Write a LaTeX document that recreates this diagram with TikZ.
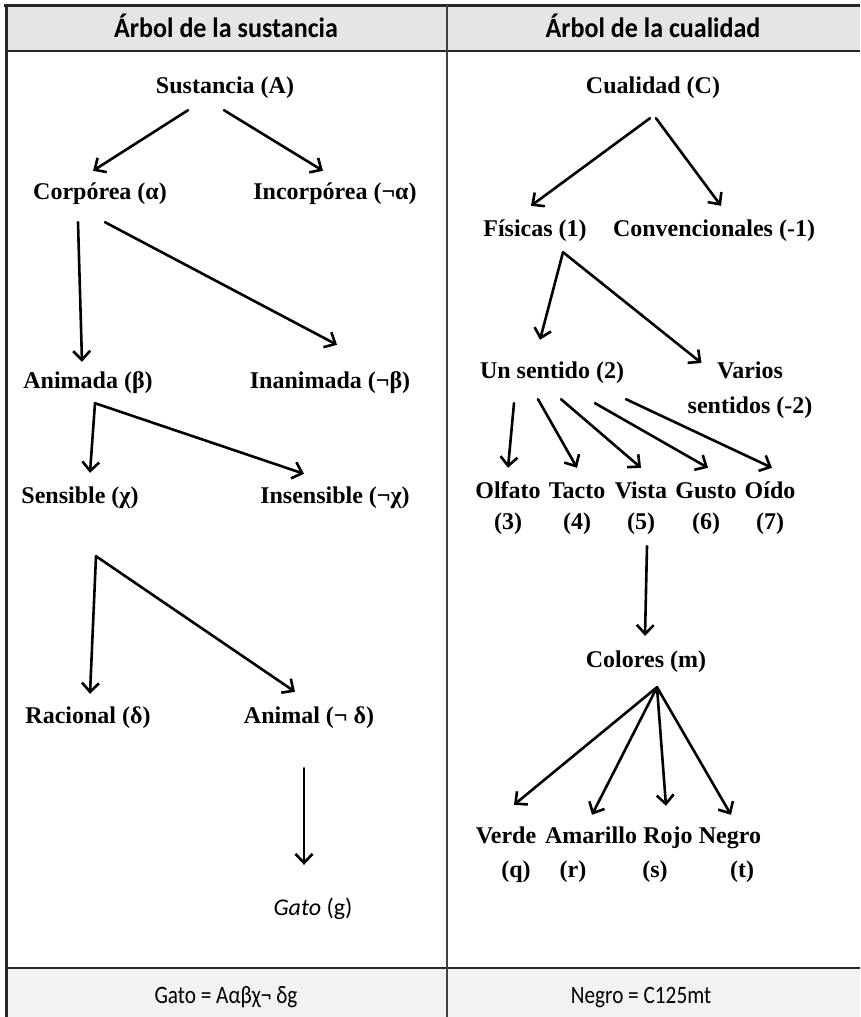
\documentclass[tikz,border=0pt]{standalone}
\usepackage{fontspec}
\setmainfont{Liberation Serif}
\newfontfamily\headfont[FakeStretch=0.93]{Carlito}
\newfontfamily\rowfont{Carlito}
\newfontfamily\resfont[FakeStretch=0.85]{Carlito}
\newcommand\treefont{\bfseries\fontsize{24}{28}\selectfont}
\usetikzlibrary{arrows.meta}
\definecolor{headgray}{RGB}{228,229,230}
\definecolor{rowgray}{RGB}{241,242,243}

\begin{document}
\begin{tikzpicture}[x=1pt, y=-1pt, line cap=round, line join=round,
    lbl/.style={font=\treefont, inner sep=0pt, anchor=base, text height=16pt, text depth=5pt},
    arr/.style={line width=2.6pt, -{Straight Barb[length=9pt,width=17pt]}},
    rule/.style={line width=2.4pt, draw=black!85, line cap=butt}]
	\useasboundingbox (0,0) rectangle (860,1017);

	%Table
	\fill[headgray] (6,5) rectangle (860,51);
	\fill[rowgray] (6,968) rectangle (860,1017);
	\draw[rule] (4,5.5) -- (860,5.5);
	\draw[rule, line width=2pt] (6,51) -- (860,51);
	\draw[rule, line width=2pt] (6,968) -- (860,968);
	\draw[rule] (6.5,4) -- (6.5,1017);
	\draw[rule, line width=1.3pt, draw=black!75] (447,5) -- (447,1017);

	%Headers
	\node[font=\headfont\bfseries\fontsize{28}{32}\selectfont, anchor=base] (hdA) at (226,37) {Árbol de la sustancia};
	\node[font=\headfont\bfseries\fontsize{28}{32}\selectfont, anchor=base] (hdC) at (653,37) {Árbol de la cualidad};

	%Substance tree
	\node[lbl] (sust) at (225,93) {Sustancia (A)};
	\node[lbl] (corp) at (100,199) {Corpórea (α)};
	\node[lbl] (incorp) at (335,199) {Incorpórea (¬α)};
	\node[lbl] (anim) at (88,388) {Animada (β)};
	\node[lbl] (inanim) at (330,388) {Inanimada (¬β)};
	\node[lbl] (sens) at (80,503) {Sensible (χ)};
	\node[lbl] (insens) at (335,503) {Insensible (¬χ)};
	\node[lbl] (rac) at (88,723) {Racional (δ)};
	\node[lbl] (animal) at (309,723) {Animal (¬ δ)};
	\node[lbl, font=\rowfont\fontsize{24}{28}\selectfont] (gato) at (313,915) {\textit{Gato} (g)};

	\draw[arr] ([xshift=-37pt,yshift=-12pt]sust.south) -- ([xshift=-7pt,yshift=12pt]corp.north);
	\draw[arr] ([xshift=-1pt,yshift=-12pt]sust.south) -- ([xshift=-12pt,yshift=12pt]incorp.north);
	\draw[arr] ([xshift=-22pt,yshift=-18pt]corp.south) -- ([xshift=-6pt,yshift=10pt]anim.north);
	\draw[arr] ([xshift=5pt,yshift=-18pt]corp.south) -- ([xshift=7pt,yshift=27pt]inanim.north);
	\draw[arr] ([xshift=7pt,yshift=-10pt]anim.south) -- ([xshift=10pt,yshift=14pt]sens.north);
	\draw[arr] ([xshift=7pt,yshift=-10pt]anim.south) -- ([xshift=-31pt,yshift=13pt]insens.north);
	\draw[arr] ([xshift=16pt,yshift=-48pt]sens.south) -- ([xshift=2pt,yshift=13pt]rac.north);
	\draw[arr] ([xshift=16pt,yshift=-48pt]sens.south) -- ([xshift=-14pt,yshift=15pt]animal.north);
	\draw[arr] ([xshift=-5pt,yshift=-40pt]animal.south) -- ([xshift=-9pt,yshift=34pt]gato.north);

	%Quality tree
	\node[lbl] (cual) at (653,93) {Cualidad (C)};
	\node[lbl] (fis) at (535,236) {Físicas (1)};
	\node[lbl] (conv) at (714,236) {Convencionales (-1)};
	\node[lbl] (uns) at (552,378) {Un sentido (2)};
	\node[inner sep=0pt, anchor=north, align=center, font=\bfseries\fontsize{24}{35}\selectfont] (varios) at (750,362) {Varios\\sentidos (-2)};
	\foreach \nm/\txt/\num/\x in {olf/Olfato/3/508, tac/Tacto/4/577, vis/Vista/5/641, gus/Gusto/6/706, oid/Oído/7/770}{
		\node[lbl] (\nm) at (\x,498) {\txt};
		\node[lbl] (\nm-n) at (\x,529) {(\num)};
	}
	\node[lbl] (col) at (646,667) {Colores (m)};
	\foreach \nm/\txt/\x/\lt/\lx in {verde/Verde/506/q/516, amar/Amarillo/591/r/573, rojo/Rojo/668/s/655, negro/Negro/730/t/742}{
		\node[lbl] (\nm) at (\x,843) {\txt};
		\node[lbl] (\nm-l) at (\lx,877) {(\lt)};
	}

	\draw[arr] ([xshift=-3pt,yshift=-20pt]cual.south) -- ([xshift=-4pt,yshift=14pt]fis.north);
	\draw[arr] ([xshift=3pt,yshift=-20pt]cual.south) -- ([xshift=7pt,yshift=14pt]conv.north);
	\draw[arr] ([xshift=28pt,yshift=-11pt]fis.south) -- ([xshift=-12pt,yshift=22pt]uns.north);
	\draw[arr] ([xshift=28pt,yshift=-11pt]fis.south) -- ([xshift=14pt,yshift=-1pt]varios.north west);
	\draw[arr] ([xshift=-38pt,yshift=-20pt]uns.south) -- ([yshift=14pt]olf.north);
	\draw[arr] ([xshift=-14pt,yshift=-16pt]uns.south) -- ([yshift=14pt]tac.north);
	\draw[arr] ([xshift=9pt,yshift=-16pt]uns.south) -- ([yshift=14pt]vis.north);
	\draw[arr] ([xshift=43pt,yshift=-20pt]uns.south) -- ([xshift=2pt,yshift=14pt]gus.north);
	\draw[arr] ([xshift=74pt,yshift=-16pt]uns.south) -- ([xshift=2pt,yshift=14pt]oid.north);
	\draw[arr] ([xshift=6pt,yshift=-12pt]vis-n.south) -- ([xshift=-1pt,yshift=15pt]col.north);
	\draw[arr] ([xshift=11pt,yshift=-15pt]col.south) -- ([xshift=8pt,yshift=22pt]verde.north);
	\draw[arr] ([xshift=11pt,yshift=-15pt]col.south) -- ([xshift=1pt,yshift=12pt]amar.north);
	\draw[arr] ([xshift=11pt,yshift=-15pt]col.south) -- ([xshift=-2pt,yshift=21pt]rojo.north);
	\draw[arr] ([xshift=11pt,yshift=-15pt]col.south) -- ([xshift=1pt,yshift=12pt]negro.north);

	%Results
	\node[font=\resfont\fontsize{25}{29}\selectfont, anchor=base] (resA) at (226,1003) {Gato = Aαβχ¬ δg};
	\node[font=\resfont\fontsize{25}{29}\selectfont, anchor=base] (resC) at (641,1003) {Negro = C125mt};
\end{tikzpicture}
\end{document}
